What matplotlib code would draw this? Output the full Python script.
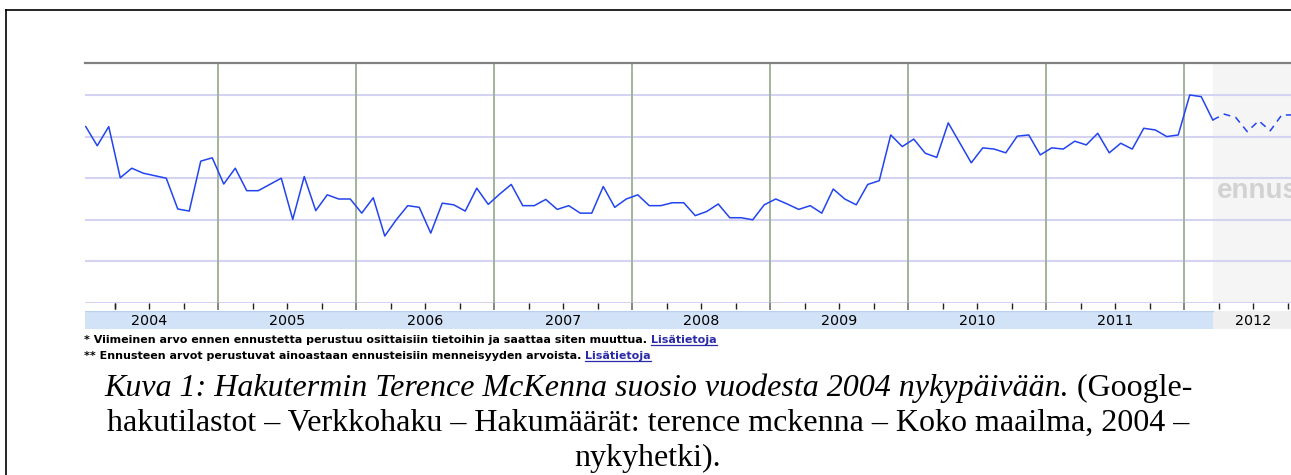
import matplotlib
matplotlib.use("Agg")
import matplotlib.pyplot as plt
from matplotlib.lines import Line2D
from matplotlib.patches import Rectangle

# monthly search volume, Jan 2004 .. Mar 2012 (relative units, grid step = 1)
hist_values = [
    4.24, 3.78, 4.24, 3.01, 3.24, 3.12, 3.06, 3.00, 2.26, 2.21, 3.41, 3.49,
    2.86, 3.24, 2.70, 2.70, 2.85, 3.00, 2.01, 3.04, 2.22, 2.60, 2.50, 2.50,
    2.16, 2.53, 1.61, 2.00, 2.34, 2.30, 1.68, 2.40, 2.36, 2.21, 2.76, 2.37,
    2.62, 2.85, 2.34, 2.34, 2.49, 2.25, 2.34, 2.16, 2.16, 2.80, 2.30, 2.50,
    2.60, 2.34, 2.34, 2.41, 2.41, 2.10, 2.20, 2.38, 2.05, 2.05, 2.00, 2.36,
    2.50, 2.38, 2.25, 2.34, 2.16, 2.74, 2.50, 2.36, 2.85, 2.94, 4.04, 3.76,
    3.94, 3.60, 3.50, 4.33, 3.85, 3.37, 3.73, 3.70, 3.61, 4.01, 4.04, 3.56,
    3.73, 3.70, 3.89, 3.80, 4.08, 3.61, 3.84, 3.70, 4.20, 4.16, 4.00, 4.04,
    5.00, 4.96, 4.40,
]
# forecast, Mar 2012 .. Oct 2012 (starts from the last real value)
forecast_values = [4.40, 4.54, 4.46, 4.12, 4.38, 4.14, 4.52, 4.52]
years = [2004, 2005, 2006, 2007, 2008, 2009, 2010, 2011, 2012]

caption_italic = "Kuva 1: Hakutermin Terence McKenna suosio vuodesta 2004 nykypäivään."
caption_rest = " (Google-"
caption_line2 = "hakutilastot – Verkkohaku – Hakumäärät: terence mckenna – Koko maailma, 2004 –"
caption_line3 = "nykyhetki)."
note1 = "* Viimeinen arvo ennen ennustetta perustuu osittaisiin tietoihin ja saattaa siten muuttua. "
note2 = "** Ennusteen arvot perustuvat ainoastaan ennusteisiin menneisyyden arvoista. "
link_text = "Lisätietoja"

W, H = 1291, 475


def fx(px):
    return px / W


def fy(py):
    return 1 - py / H


def month_x(i):
    return years[0] + (i + 0.5) / 12


fig = plt.figure(figsize=(W / 100, H / 100), dpi=100)

# plot area in pixels: x 85..1291, y 63..303 ; one year = 138 px starting at x=80
x_left = years[0] + 5 / 138
x_right = years[0] + (W - 80) / 138
forecast_start = month_x(len(hist_values) - 1)

ax = fig.add_axes([fx(85), fy(303), fx(W - 85), (303 - 63) / H])
ax.set_xlim(x_left, x_right)
ax.set_ylim(0, 240 / 41.6)
ax.axvspan(forecast_start, x_right, color="#f5f5f5", zorder=0, lw=0)
for v in range(0, 6):
    ax.axhline(v, color="#d4d4f2", lw=1.5, zorder=1)
for y in years[1:]:
    ax.axvline(y, color="#a3b39b", lw=1.4, zorder=2)

xs = [month_x(i) for i in range(len(hist_values))]
ax.plot(xs, hist_values, color="#2244ee", lw=1.1, zorder=4)
fxs = [month_x(len(hist_values) - 1 + i) for i in range(len(forecast_values))]
ax.plot(fxs, forecast_values, color="#2244ee", lw=1.1, ls=(0, (4.5, 3.5)), zorder=4)

# the forecast label is cut by the right edge, as in the original
ax.text(years[0] + (1217 - 80) / 138, (303 - 198) / 41.6, "ennuste",
        family="Liberation Sans", weight="bold", fontsize=20, color="#d2d2d2",
        va="baseline", ha="left", clip_on=True, zorder=3)

for s in ["left", "right", "bottom"]:
    ax.spines[s].set_visible(False)
ax.spines["top"].set_color("#808080")
ax.spines["top"].set_linewidth(1.6)
ax.set_yticks([])
ax.set_xticks(years[1:])
ax.set_xticks([y + q / 4 for y in years for q in (1, 2, 3)] + [years[0] + 0.25], minor=True)
ax.tick_params(axis="x", which="major", length=5, width=1.2, color="#707070", labelbottom=False)
ax.tick_params(axis="x", which="minor", length=4, width=1.0, color="#222222")

# year band below the plot
band = fig.add_axes([fx(85), fy(329), fx(W - 85), 18 / H])
band.set_xlim(x_left, x_right)
band.set_ylim(0, 1)
band.axis("off")
band.add_patch(Rectangle((x_left, 0), forecast_start - x_left, 1, color="#d3e3f7", lw=0))
band.add_patch(Rectangle((forecast_start, 0), x_right - forecast_start, 1, color="#efefef", lw=0))
band.plot([x_left, forecast_start], [1, 1], color="#b8cfee", lw=1)
for y in years:
    band.text(y + 0.5, 0.45, str(y), ha="center", va="center", fontsize=10.3,
              family="DejaVu Sans", color="#000000")

# footnotes with underlined links
renderer = fig.canvas.get_renderer()
for base, note in [(343, note1), (359, note2)]:
    t = fig.text(fx(84), fy(base), note, fontsize=8.0, family="DejaVu Sans",
                 weight="bold", color="#000000", va="baseline", ha="left")
    bb = t.get_window_extent(renderer)
    lt = fig.text(bb.x1 / W, fy(base), link_text, fontsize=8.0, family="DejaVu Sans",
                  weight="bold", color="#2b2ba8", va="baseline", ha="left")
    lb = lt.get_window_extent(renderer)
    fig.add_artist(Line2D([lb.x0 / W, lb.x1 / W], [fy(base + 2), fy(base + 2)],
                          color="#2b2ba8", lw=0.9, transform=fig.transFigure))

# caption, first line mixes italic and upright text
cap_size = 23
center_x = 648
t1 = fig.text(0, fy(396), caption_italic, fontsize=cap_size, family="Liberation Serif",
              style="italic", va="baseline", ha="left")
t2 = fig.text(0, fy(396), caption_rest, fontsize=cap_size, family="Liberation Serif",
              va="baseline", ha="left")
w1 = t1.get_window_extent(renderer).width
w2 = t2.get_window_extent(renderer).width
start = center_x - (w1 + w2) / 2
t1.set_x(fx(start))
t2.set_x(fx(start + w1))
fig.text(fx(center_x), fy(431), caption_line2, fontsize=cap_size, family="Liberation Serif",
         va="baseline", ha="center")
fig.text(fx(center_x), fy(466), caption_line3, fontsize=cap_size, family="Liberation Serif",
         va="baseline", ha="center")

# document frame
fig.add_artist(Line2D([fx(6), fx(6)], [fy(10), 0], color="black", lw=1.2, transform=fig.transFigure))
fig.add_artist(Line2D([fx(6), 1], [fy(10), fy(10)], color="black", lw=1.2, transform=fig.transFigure))

fig.savefig("out.png", dpi=100)
